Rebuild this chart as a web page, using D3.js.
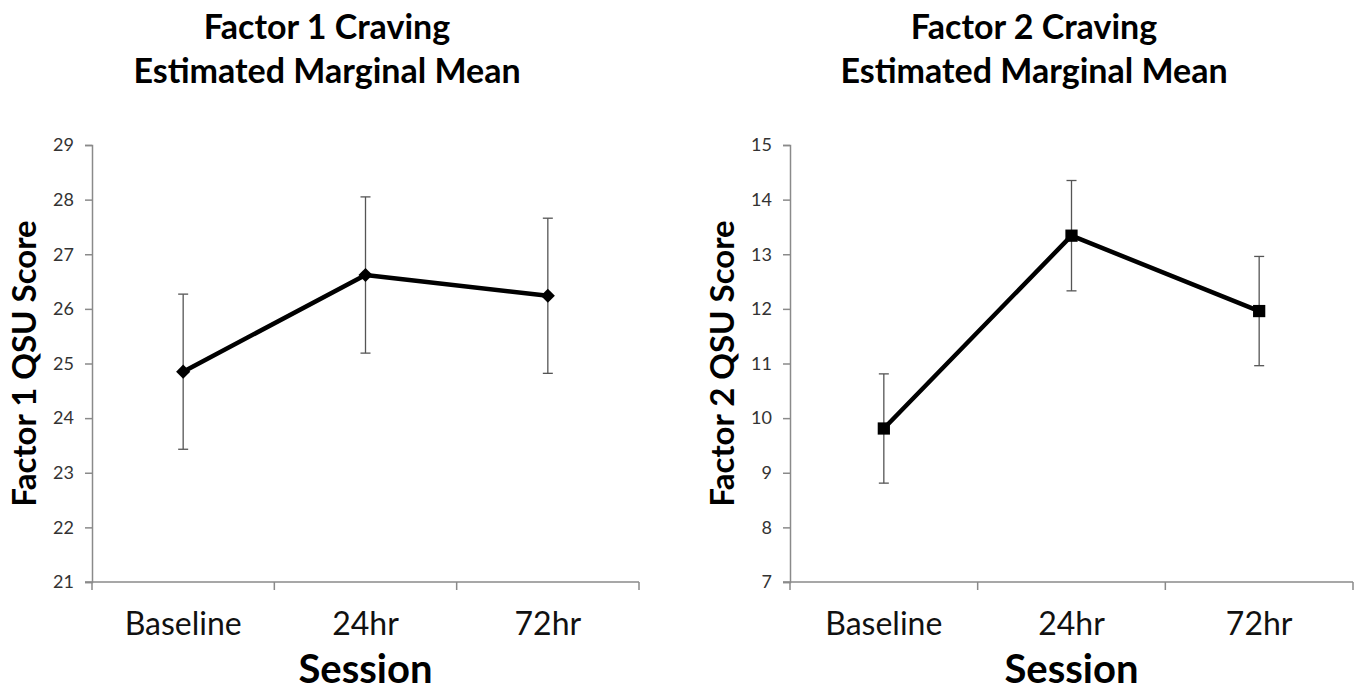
<!DOCTYPE html>
<html>
<head>
<meta charset="utf-8">
<script src="https://cdn.jsdelivr.net/npm/d3@7"></script>
<style>
  body { margin: 0; background: #fff; }
  text { font-family: Lato, "Open Sans", sans-serif; }
</style>
</head>
<body>
<div id="chart"></div>
<script>
const W = 1360, H = 692;

const sessions = ["Baseline", "24hr", "72hr"];

const factor1Means = [24.85, 26.62, 26.24];
const factor1Err = [1.42, 1.43, 1.42];
const factor1Ticks = [21, 22, 23, 24, 25, 26, 27, 28, 29];

const factor2Means = [9.81, 13.34, 11.96];
const factor2Err = [1.0, 1.01, 1.0];
const factor2Ticks = [7, 8, 9, 10, 11, 12, 13, 14, 15];

const panels = [
    {title: ["Factor 1 Craving", "Estimated Marginal Mean"], yLabel: "Factor 1 QSU Score",
     means: factor1Means, err: factor1Err, ticks: factor1Ticks, marker: "diamond",
     left: 92, right: 639, titleX: 327},
    {title: ["Factor 2 Craving", "Estimated Marginal Mean"], yLabel: "Factor 2 QSU Score",
     means: factor2Means, err: factor2Err, ticks: factor2Ticks, marker: "square",
     left: 790, right: 1353, titleX: 1034}
];

const plotTop = 145, plotBottom = 582;

const svg = d3.select("#chart").append("svg")
    .attr("width", W)
    .attr("height", H);

panels.forEach(p => {
    const g = svg.append("g");

    const x = d3.scaleBand()
        .domain(sessions)
        .range([p.left, p.right]);

    const y = d3.scaleLinear()
        .domain(d3.extent(p.ticks))
        .range([plotBottom, plotTop]);

    // titles
    g.selectAll(".title")
        .data(p.title)
        .enter().append("text")
        .attr("x", p.titleX)
        .attr("y", (d, i) => 39 + i * 44)
        .attr("text-anchor", "middle")
        .style("font-size", "34px")
        .style("font-weight", "bold")
        .style("fill", "#000")
        .text(d => d);

    // y axis
    const yAxis = g.append("g")
        .attr("transform", "translate(" + p.left + ",0)")
        .call(d3.axisLeft(y).tickValues(p.ticks).tickSize(7).tickPadding(11).tickFormat(d3.format("d")));
    yAxis.select(".domain").attr("stroke", "#8a8a8a").attr("stroke-width", 1.5);
    yAxis.selectAll(".tick line").attr("stroke", "#8a8a8a").attr("stroke-width", 1.5);
    yAxis.selectAll(".tick text")
        .style("font-size", "18px")
        .style("fill", "#333")
        .style("font-family", "Lato, sans-serif");

    // x axis: boundary ticks between categories
    const xAxis = g.append("g")
        .attr("transform", "translate(0," + plotBottom + ")");
    xAxis.append("line")
        .attr("x1", p.left - 7).attr("x2", p.right)
        .attr("stroke", "#8a8a8a").attr("stroke-width", 1.5);
    const bounds = sessions.map(s => x(s)).concat([x(sessions[sessions.length - 1]) + x.bandwidth()]);
    xAxis.selectAll(".xt")
        .data(bounds)
        .enter().append("line")
        .attr("x1", d => d).attr("x2", d => d)
        .attr("y1", 0).attr("y2", 8)
        .attr("stroke", "#8a8a8a").attr("stroke-width", 1.5);
    xAxis.selectAll(".xl")
        .data(sessions)
        .enter().append("text")
        .attr("x", d => x(d) + x.bandwidth() / 2)
        .attr("y", 53)
        .attr("text-anchor", "middle")
        .style("font-size", "32px")
        .style("fill", "#111")
        .text(d => d);

    g.append("text")
        .attr("x", (p.left + p.right) / 2)
        .attr("y", 683)
        .attr("text-anchor", "middle")
        .style("font-size", "40px")
        .style("font-weight", "bold")
        .style("fill", "#000")
        .text("Session");

    g.append("text")
        .attr("transform", "translate(" + (p.left - 56) + "," + ((plotTop + plotBottom) / 2) + ") rotate(-90)")
        .attr("text-anchor", "middle")
        .style("font-size", "33px")
        .style("font-weight", "bold")
        .style("fill", "#000")
        .text(p.yLabel);

    const pts = sessions.map((s, i) => ({s: s, m: p.means[i], e: p.err[i]}));
    const cx = d => x(d.s) + x.bandwidth() / 2;

    // error bars
    const eb = g.append("g").attr("stroke", "#555").attr("stroke-width", 1.3);
    eb.selectAll(".v").data(pts).enter().append("line")
        .attr("x1", cx).attr("x2", cx)
        .attr("y1", d => y(d.m - d.e)).attr("y2", d => y(d.m + d.e));
    eb.selectAll(".t").data(pts).enter().append("line")
        .attr("x1", d => cx(d) - 5).attr("x2", d => cx(d) + 5)
        .attr("y1", d => y(d.m + d.e)).attr("y2", d => y(d.m + d.e));
    eb.selectAll(".b").data(pts).enter().append("line")
        .attr("x1", d => cx(d) - 5).attr("x2", d => cx(d) + 5)
        .attr("y1", d => y(d.m - d.e)).attr("y2", d => y(d.m - d.e));

    // mean line
    g.append("path")
        .datum(pts)
        .attr("fill", "none")
        .attr("stroke", "#000")
        .attr("stroke-width", 4.5)
        .attr("stroke-linejoin", "round")
        .attr("d", d3.line().x(cx).y(d => y(d.m)));

    // markers
    const sym = p.marker === "diamond"
        ? d3.symbol().type(d3.symbolSquare).size(100)
        : d3.symbol().type(d3.symbolSquare).size(150);
    g.selectAll(".mk").data(pts).enter().append("path")
        .attr("transform", d => "translate(" + cx(d) + "," + y(d.m) + ")" + (p.marker === "diamond" ? " rotate(45)" : ""))
        .attr("d", sym)
        .attr("fill", "#000");
});
</script>
</body>
</html>
